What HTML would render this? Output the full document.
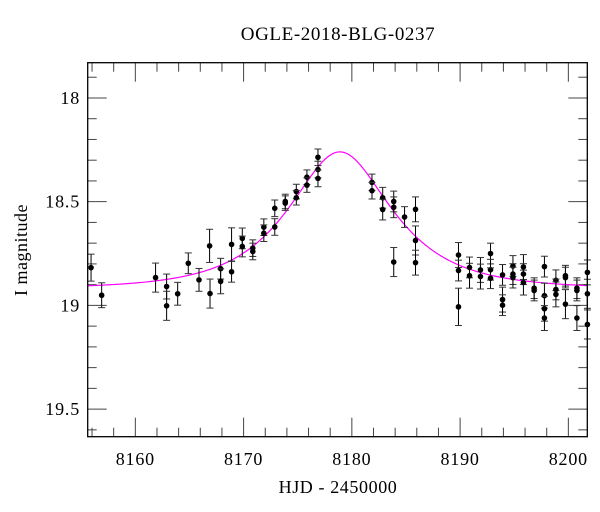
<!DOCTYPE html>
<html><head><meta charset="utf-8"><style>
html,body{margin:0;padding:0;background:#fff;}
svg{display:block;font-family:"Liberation Serif","DejaVu Serif",serif;}
</style></head><body>
<svg id="chart" width="600" height="512" viewBox="0 0 600 512" xmlns="http://www.w3.org/2000/svg">
<text x="338" y="40" text-anchor="middle" font-size="19" letter-spacing="0.6">OGLE-2018-BLG-0237</text>
<text x="338" y="493" text-anchor="middle" font-size="18" letter-spacing="0.6">HJD - 2450000</text>
<text x="27" y="250" text-anchor="middle" font-size="18" letter-spacing="0.5" transform="rotate(-90 27 250)">I magnitude</text>
<g id="ticks"></g>
<g id="curve"></g>
<g id="points"></g>
<rect x="87.7" y="62.7" width="499.6" height="374" fill="none" stroke="#000" stroke-width="1.3"/>
</svg>
<script>
const days = [8155.91,8156.89,8161.87,8162.89,8162.89,8163.91,8164.89,8165.88,8166.86,8166.90,8167.88,8167.88,8168.89,8168.89,8169.88,8169.88,8170.85,8170.85,8171.87,8171.87,8172.88,8172.88,8173.85,8173.85,8174.87,8174.87,8175.85,8175.85,8176.87,8176.87,8176.87,
8181.86,8181.86,8182.85,8182.85,8183.87,8183.87,8183.87,8184.87,8185.88,8185.88,8185.88,
8189.85,8189.85,8189.85,8190.87,8190.87,8191.88,8191.88,8192.81,8192.81,8192.81,8193.92,8193.92,8193.92,8194.88,8194.88,8194.88,8195.85,8195.85,8195.85,8196.84,8196.84,8197.79,8197.79,8197.79,8197.79,8198.85,8198.85,8198.85,8199.73,8199.73,8199.73,8200.79,8200.79,8200.79,8201.76,8201.76,8201.76];
const mags = [18.818,18.951,18.866,18.909,19.002,18.944,18.797,18.877,18.713,18.943,18.823,18.884,18.706,18.838,18.677,18.716,18.724,18.740,18.623,18.652,18.532,18.622,18.499,18.507,18.451,18.481,18.382,18.420,18.286,18.345,18.388,
18.407,18.447,18.481,18.538,18.499,18.527,18.791,18.574,18.537,18.687,18.794,
18.757,18.832,19.007,18.817,18.857,18.829,18.861,18.750,18.828,18.869,18.853,18.972,18.999,18.810,18.849,18.866,18.815,18.849,18.890,18.917,18.928,18.813,18.953,19.016,19.061,18.879,18.923,18.947,18.857,18.866,18.994,18.917,18.928,19.061,18.841,18.944,19.092];
const errs = [0.065,0.06,0.07,0.06,0.07,0.055,0.05,0.055,0.08,0.07,0.05,0.06,0.08,0.05,0.05,0.05,0.04,0.04,0.04,0.04,0.04,0.04,0.035,0.035,0.035,0.035,0.035,0.035,0.04,0.04,0.04,
0.04,0.04,0.05,0.05,0.05,0.05,0.07,0.05,0.06,0.07,0.06,
0.06,0.05,0.09,0.05,0.06,0.06,0.06,0.05,0.05,0.05,0.05,0.06,0.05,0.05,0.05,0.05,0.06,0.05,0.06,0.05,0.05,0.05,0.06,0.06,0.06,0.05,0.05,0.06,0.05,0.05,0.07,0.05,0.05,0.06,0.06,0.07,0.07];
const xTickLabels = [8160,8170,8180,8190,8200];
const yTickLabels = [18,18.5,19,19.5];
const modelT0 = 8178.9, modelU0 = 0.62, modelTE = 7.4, modelBase = 18.92;

const X0=87.7, X1=587.3, Y0=62.7, Y1=436.7;
const xMin=8155.6, xMax=8201.75, yMin=17.83, yMax=19.633;
function sx(d){return X0+(d-xMin)/(xMax-xMin)*(X1-X0);}
function sy(m){return Y0+(m-yMin)/(yMax-yMin)*(Y1-Y0);}
const NS='http://www.w3.org/2000/svg';
function mk(tag,attrs,parent){const e=document.createElementNS(NS,tag);for(const k in attrs)e.setAttribute(k,attrs[k]);parent.appendChild(e);return e;}

const tg=document.getElementById('ticks');
for(let d=8156; d<=8201; d+=2){
  const major = d%10===0;
  const L = major?19:9, x=sx(d);
  let t=mk('line',{x1:x,y1:Y1,x2:x,y2:Y1-L,stroke:'#444','stroke-width':1},tg);
  
  
  t=mk('line',{x1:x,y1:Y0,x2:x,y2:Y0+L,stroke:'#444','stroke-width':1},tg);
  
  
}
xTickLabels.forEach(v=>{
  const t=mk('text',{x:sx(v),y:465,'text-anchor':'middle','font-size':18,'letter-spacing':0.8},tg);
  t.textContent=String(v);
  
  
});
for(let i=0;i<=17;i++){
  const m=17.9+i*0.1; if(m>yMax) break;
  const major = Math.abs(m*2-Math.round(m*2))<1e-6;
  const L=major?19:9, y=sy(m);
  let t=mk('line',{x1:X0,y1:y,x2:X0+L,y2:y,stroke:'#444','stroke-width':1},tg);
  
  
  t=mk('line',{x1:X1,y1:y,x2:X1-L,y2:y,stroke:'#444','stroke-width':1},tg);
  
  
}
yTickLabels.forEach(v=>{
  const t=mk('text',{x:80,y:sy(v)+6,'text-anchor':'end','font-size':18,'letter-spacing':0.8},tg);
  t.textContent=String(v);
  
  
});

const cg=document.getElementById('curve');
let dpath='';
for(let i=0;i<=400;i++){
  const t=xMin+(xMax-xMin)*i/400;
  const tau=(t-modelT0)/modelTE;
  const u=Math.sqrt(modelU0*modelU0+tau*tau);
  const A=(u*u+2)/(u*Math.sqrt(u*u+4));
  const m=modelBase-2.5*Math.log10(A);
  dpath+=(i?'L':'M')+sx(t).toFixed(2)+','+sy(m).toFixed(2);
}
const cp=mk('path',{d:dpath,fill:'none',stroke:'#ff00ff','stroke-width':1.2},cg);



const pg=document.getElementById('points');
days.forEach((d,i)=>{
  const x=sx(d), y=sy(mags[i]), ya=sy(mags[i]-errs[i]), yb=sy(mags[i]+errs[i]);
  const g=mk('g',{},pg);
  
  
  mk('line',{x1:x,y1:ya,x2:x,y2:yb,stroke:'#000','stroke-width':1},g);
  mk('line',{x1:x-3.5,y1:ya,x2:x+3.5,y2:ya,stroke:'#333','stroke-width':1},g);
  mk('line',{x1:x-3.5,y1:yb,x2:x+3.5,y2:yb,stroke:'#333','stroke-width':1},g);
  mk('circle',{cx:x,cy:y,r:2.8,fill:'#000'},g);
});
</script>
</body></html>
